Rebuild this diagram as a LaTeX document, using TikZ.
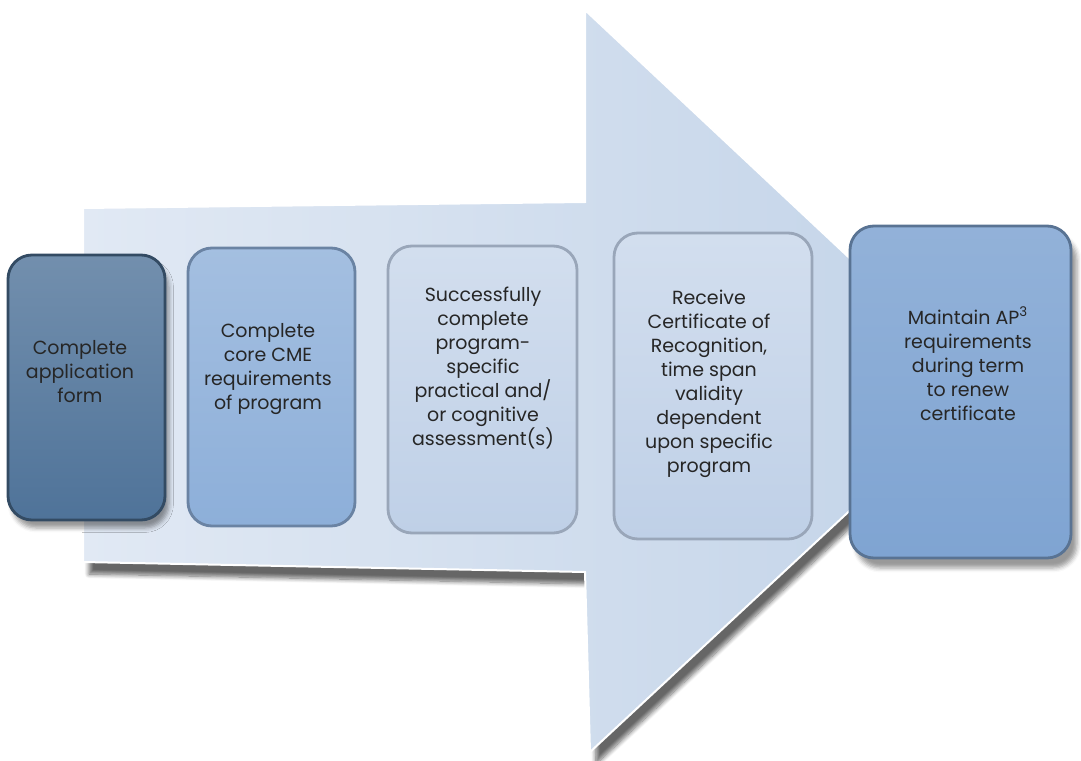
\documentclass[tikz,border=0pt]{standalone}
\usepackage{fontspec}
\setmainfont{Poppins}
\usetikzlibrary{shadows.blur}
\definecolor{arrowlight}{HTML}{E1E9F4}
\definecolor{arrowdark}{HTML}{C2D3E8}
\definecolor{stepA}{HTML}{4F7399}
\definecolor{stepB}{HTML}{8DAFD9}
\definecolor{stepC}{HTML}{BFD0E7}
\definecolor{stepE}{HTML}{7FA4D2}
\begin{document}
\begin{tikzpicture}[x=0.5pt,y=-0.5pt,
  box/.style={rectangle,rounded corners=12pt,line width=1.4pt},
  txt/.style={align=center,text=black!85,font=\fontsize{9.5}{12}\selectfont}]
\useasboundingbox (0,0) rectangle (1081,760);
\pgfmathsetmacro{\sx}{585};
\pgfmathsetmacro{\tip}{985};
\begin{scope}
% big arrow behind the steps
\fill[left color=arrowlight,right color=arrowdark,draw=white,line width=1pt,
  blur shadow={shadow xshift=3pt,shadow yshift=-6pt,shadow blur steps=8,shadow opacity=60}]
  (83,208)--(\sx,202)--(\sx,10)--(\tip,385)--(\sx+5,752)--(\sx,572)--(83,562)--cycle;
\end{scope}
\node[box,minimum width=78.5pt,minimum height=132.5pt,draw=stepA!65!black,
  top color=stepA!80!white,bottom color=stepA,
  blur shadow={shadow xshift=2pt,shadow yshift=-4pt}] (b1) at (86.5,387.5) {};
\node[box,minimum width=83.5pt,minimum height=139pt,draw=stepB!75!black,
  top color=stepB!80!white,bottom color=stepB] (b2) at (271.5,387) {};
\node[box,minimum width=94.5pt,minimum height=143.5pt,draw=stepC!80!black,
  top color=stepC!70!white,bottom color=stepC] (b3) at (482.5,389.5) {};
\node[box,minimum width=99pt,minimum height=153pt,draw=stepC!80!black,
  top color=stepC!70!white,bottom color=stepC] (b4) at (713,386) {};
\node[box,minimum width=110.5pt,minimum height=166pt,draw=stepE!70!black,
  top color=stepE!85!white,bottom color=stepE,
  blur shadow={shadow xshift=3pt,shadow yshift=-5pt}] (b5) at (960.5,392) {};
% texts
\node[txt] (t1) at (80,372) {Complete\\application\\form};
\node[txt] (t2) at (268,369) {Complete\\core CME\\requirements\\of program};
\node[txt] (t3) at (483,368) {Successfully\\complete\\program-\\specific\\practical and/\\or cognitive\\assessment(s)};
\node[txt] (t4) at (709,384) {Receive\\Certificate of\\Recognition,\\time span\\validity\\dependent\\upon specific\\program};
\node[txt] (t5) at (968,364) {Maintain AP\textsuperscript{3}\\requirements\\during term\\to renew\\certificate};
%\draw[red] (b1.east)--(b5.west);
\end{tikzpicture}
\end{document}
